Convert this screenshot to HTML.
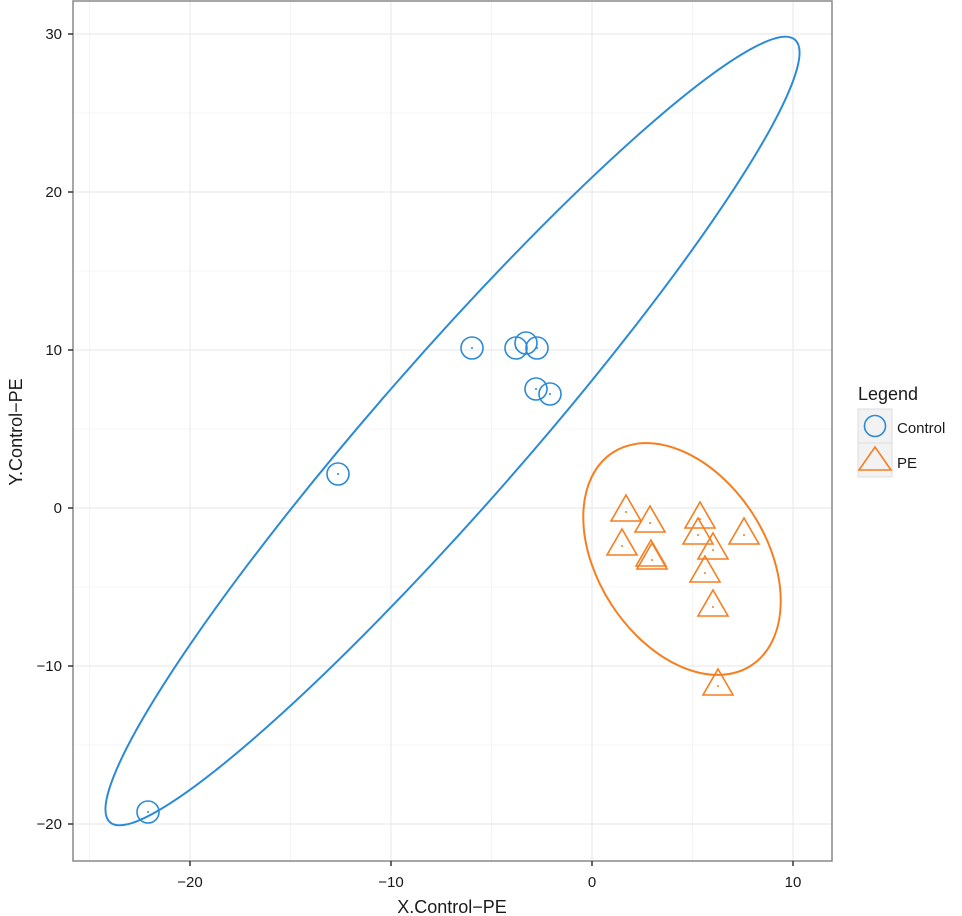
<!DOCTYPE html>
<html><head><style>body{margin:0;background:#fff}svg{display:block}text{font-family:"Liberation Sans",sans-serif;fill:#1a1a1a}</style></head>
<body>
<svg width="962" height="916" xmlns="http://www.w3.org/2000/svg">
<g stroke="#f4f4f4" stroke-width="1">
<line x1="89.5" y1="1" x2="89.5" y2="861"/><line x1="290.5" y1="1" x2="290.5" y2="861"/><line x1="491.5" y1="1" x2="491.5" y2="861"/><line x1="692.5" y1="1" x2="692.5" y2="861"/>
<line x1="73" y1="113" x2="832" y2="113"/><line x1="73" y1="271" x2="832" y2="271"/><line x1="73" y1="429" x2="832" y2="429"/><line x1="73" y1="587" x2="832" y2="587"/><line x1="73" y1="745" x2="832" y2="745"/>
</g>
<g stroke="#ebebeb" stroke-width="1.2">
<line x1="190" y1="1" x2="190" y2="861"/><line x1="391" y1="1" x2="391" y2="861"/><line x1="592" y1="1" x2="592" y2="861"/><line x1="793" y1="1" x2="793" y2="861"/>
<line x1="73" y1="34" x2="832" y2="34"/><line x1="73" y1="192" x2="832" y2="192"/><line x1="73" y1="350" x2="832" y2="350"/><line x1="73" y1="508" x2="832" y2="508"/><line x1="73" y1="666" x2="832" y2="666"/><line x1="73" y1="824" x2="832" y2="824"/>
</g>
<ellipse cx="452.5" cy="431" rx="520" ry="74" transform="rotate(-48.8 452.5 431)" fill="none" stroke="#2b8ad6" stroke-width="2"/>
<ellipse cx="682" cy="559" rx="127" ry="84" transform="rotate(57 682 559)" fill="none" stroke="#f57f20" stroke-width="2"/>
<g fill="none" stroke="#2b8ad6" stroke-width="1.6">
<circle cx="472" cy="348" r="11"/><circle cx="516" cy="348" r="11"/><circle cx="526" cy="343" r="11"/><circle cx="537" cy="348" r="11"/><circle cx="536" cy="389" r="11"/><circle cx="550" cy="394" r="11"/><circle cx="338" cy="474" r="11"/><circle cx="148" cy="812" r="11"/>
</g>
<g fill="#2b8ad6"><circle cx="472" cy="348" r="1"/><circle cx="516" cy="348" r="1"/><circle cx="526" cy="343" r="1"/><circle cx="537" cy="348" r="1"/><circle cx="536" cy="389" r="1"/><circle cx="550" cy="394" r="1"/><circle cx="338" cy="474" r="1"/><circle cx="148" cy="812" r="1"/></g>
<g fill="none" stroke="#f57f20" stroke-width="1.6">
<path d="M0,-17 L15,9 L-15,9 Z" transform="translate(626,512)"/>
<path d="M0,-17 L15,9 L-15,9 Z" transform="translate(650,523)"/>
<path d="M0,-17 L15,9 L-15,9 Z" transform="translate(622,546)"/>
<path d="M0,-17 L15,9 L-15,9 Z" transform="translate(652,560)"/>
<path d="M0,-17 L15,9 L-15,9 Z" transform="translate(651,557)"/>
<path d="M0,-17 L15,9 L-15,9 Z" transform="translate(700,519)"/>
<path d="M0,-17 L15,9 L-15,9 Z" transform="translate(698,535)"/>
<path d="M0,-17 L15,9 L-15,9 Z" transform="translate(713,550)"/>
<path d="M0,-17 L15,9 L-15,9 Z" transform="translate(744,535)"/>
<path d="M0,-17 L15,9 L-15,9 Z" transform="translate(705,573)"/>
<path d="M0,-17 L15,9 L-15,9 Z" transform="translate(713,607)"/>
<path d="M0,-17 L15,9 L-15,9 Z" transform="translate(718,686)"/>
</g>
<g fill="#f57f20"><circle cx="626" cy="512" r="1"/><circle cx="650" cy="523" r="1"/><circle cx="622" cy="546" r="1"/><circle cx="652" cy="560" r="1"/><circle cx="700" cy="519" r="1"/><circle cx="698" cy="535" r="1"/><circle cx="713" cy="550" r="1"/><circle cx="744" cy="535" r="1"/><circle cx="705" cy="573" r="1"/><circle cx="713" cy="607" r="1"/><circle cx="718" cy="686" r="1"/></g>
<rect x="73" y="1" width="759" height="860" fill="none" stroke="#888" stroke-width="1.5"/>
<g stroke="#333" stroke-width="1.5">
<line x1="68" y1="34" x2="73" y2="34"/><line x1="68" y1="192" x2="73" y2="192"/><line x1="68" y1="350" x2="73" y2="350"/><line x1="68" y1="508" x2="73" y2="508"/><line x1="68" y1="666" x2="73" y2="666"/><line x1="68" y1="824" x2="73" y2="824"/>
<line x1="190" y1="861" x2="190" y2="866"/><line x1="391" y1="861" x2="391" y2="866"/><line x1="592" y1="861" x2="592" y2="866"/><line x1="793" y1="861" x2="793" y2="866"/>
</g>
<g font-size="15" text-anchor="end">
<text x="62" y="39">30</text><text x="62" y="197">20</text><text x="62" y="355">10</text><text x="62" y="513">0</text><text x="62" y="671">−10</text><text x="62" y="829">−20</text>
</g>
<g font-size="15" text-anchor="middle">
<text x="190" y="887">−20</text><text x="391" y="887">−10</text><text x="592" y="887">0</text><text x="793" y="887">10</text>
</g>
<text x="452" y="913" font-size="18" text-anchor="middle">X.Control−PE</text>
<text transform="translate(22,432) rotate(-90)" font-size="18" text-anchor="middle">Y.Control−PE</text>
<text x="858" y="400" font-size="18">Legend</text>
<rect x="858" y="409" width="34" height="34" fill="#f2f2f2" stroke="#ddd"/>
<rect x="858" y="443" width="34" height="34" fill="#f2f2f2" stroke="#ddd"/>
<circle cx="875" cy="426" r="10.5" fill="none" stroke="#2b8ad6" stroke-width="1.6"/>
<path d="M875,447 L891,470 L859,470 Z" fill="none" stroke="#f57f20" stroke-width="1.6"/>
<text x="897" y="433" font-size="15">Control</text>
<text x="897" y="468" font-size="15">PE</text>
</svg>
</body></html>
